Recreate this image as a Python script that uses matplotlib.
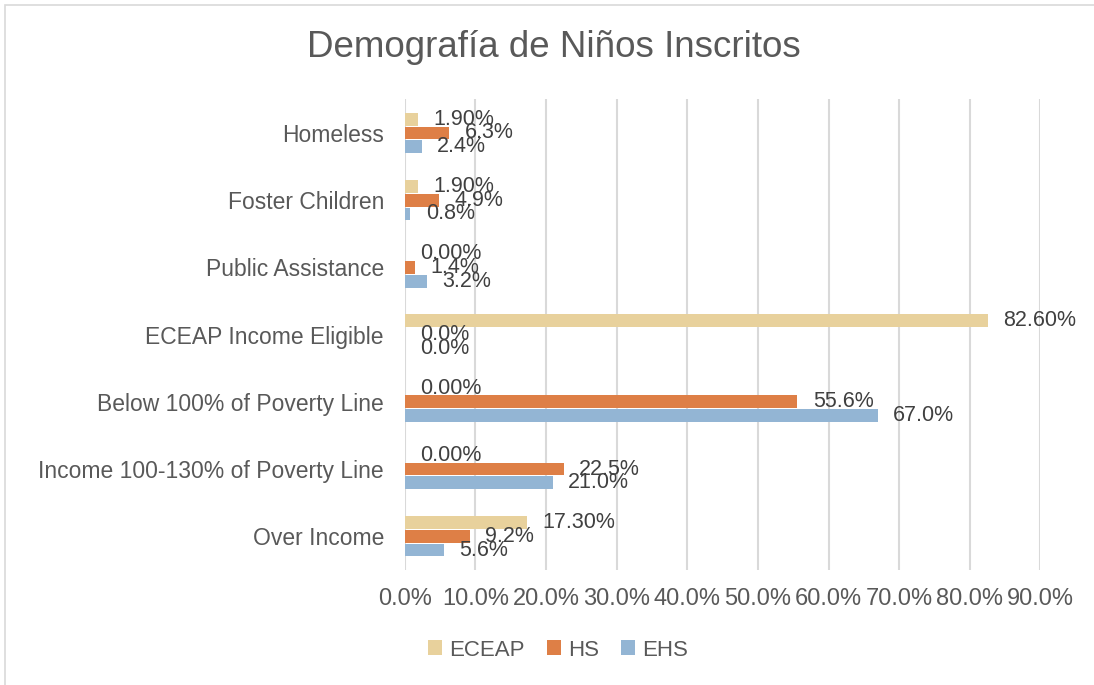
import numpy as np
import matplotlib
matplotlib.use('Agg')
import matplotlib.pyplot as plt
from matplotlib.patches import Rectangle

plt.rcParams['font.family'] = ['Liberation Sans', 'DejaVu Sans']

categories = ['Homeless', 'Foster Children', 'Public Assistance', 'ECEAP Income Eligible',
              'Below 100% of Poverty Line', 'Income 100-130% of Poverty Line', 'Over Income']
eceap = [1.90, 1.90, 0.00, 82.60, 0.00, 0.00, 17.30]
hs = [6.3, 4.9, 1.4, 0.0, 55.6, 22.5, 9.2]
ehs = [2.4, 0.8, 3.2, 0.0, 67.0, 21.0, 5.6]
xticks = [0, 10, 20, 30, 40, 50, 60, 70, 80, 90]

c_eceap = '#E8D19C'
c_hs = '#DE7F46'
c_ehs = '#93B5D4'
txt = '#595959'

fig = plt.figure(figsize=(10.94, 6.85), dpi=100)
ax = fig.add_axes([0.370, 0.168, 0.581, 0.687])

y = np.arange(len(categories))
h = 0.19
off = 0.205
series = [(eceap, c_eceap, 'ECEAP', -off, '%.2f%%'),
          (hs, c_hs, 'HS', 0, '%.1f%%'),
          (ehs, c_ehs, 'EHS', off, '%.1f%%')]
for vals, col, name, o, fmt in series:
    ax.barh(y + o, vals, height=h, color=col, label=name, zorder=3)
    for yi, v in zip(y, vals):
        ax.annotate(fmt % v, (v, yi + o), xytext=(11, 0), textcoords='offset points',
                    ha='left', va='center', fontsize=15.5, color='#404040', zorder=4)

ax.set_xlim(0, 90)
ax.set_ylim(len(categories) - 0.5, -0.5)
ax.set_xticks(xticks)
ax.set_xticklabels(['%.1f%%' % t for t in xticks])
ax.set_yticks(y)
ax.set_yticklabels(categories)
ax.tick_params(axis='both', length=0, colors=txt)
ax.tick_params(axis='x', pad=13, labelsize=17)
ax.tick_params(axis='y', pad=15, labelsize=16.5)
ax.grid(axis='x', color='#D9D9D9', linewidth=1.5, zorder=0)
for s in ax.spines.values():
    s.set_visible(False)

fig.text(0.506, 0.931, 'Demografía de Niños Inscritos', ha='center', va='center',
         fontsize=26.5, color=txt)

handles, labels = ax.get_legend_handles_labels()
fig.legend(handles, labels, loc='center', bbox_to_anchor=(0.510, 0.051), ncol=3,
           frameon=False, fontsize=16, handlelength=0.65, handleheight=0.65,
           handletextpad=0.3, columnspacing=1.0, labelcolor=txt)

fig.patches.append(Rectangle((0.005, -0.02), 1.1, 1.012, transform=fig.transFigure,
                             fill=False, edgecolor='#D9D9D9', linewidth=1.2))

fig.savefig('out.png', dpi=100)
